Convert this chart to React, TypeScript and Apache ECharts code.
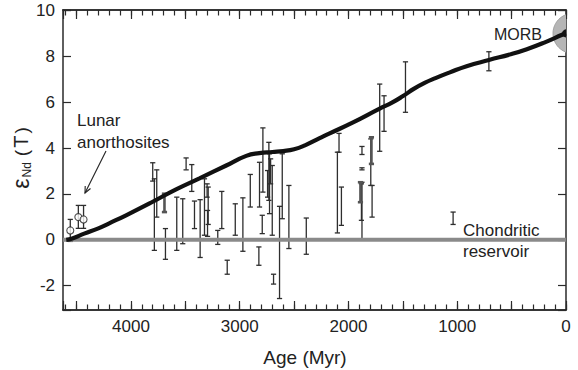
import React, { useEffect, useRef } from 'react';
import * as echarts from 'echarts';

// Model evolution curve of depleted mantle (age in Myr, epsilon Nd)
const curveAge = [4595, 4540, 4430, 4300, 4200, 4045, 3800, 3585, 3370, 3124, 2940, 2820, 2700, 2600, 2500, 2400, 2265, 2173, 1958, 1713, 1600, 1498, 1400, 1300, 1200, 1068, 914, 709, 500, 360, 200, 30, 0];
const curveEps = [0.0, 0.06, 0.27, 0.5, 0.72, 1.07, 1.66, 2.2, 2.68, 3.24, 3.66, 3.78, 3.83, 3.87, 3.95, 4.12, 4.43, 4.64, 5.12, 5.72, 5.98, 6.27, 6.58, 6.84, 7.05, 7.3, 7.57, 7.84, 8.1, 8.31, 8.6, 8.95, 9.0];

// Error bars (age, low, high)
const barAge = [3800, 3785, 3763, 3683, 3579, 3524, 3493, 3441, 3416, 3364, 3324, 3300, 3290, 3296, 3202, 3165, 3115, 3041, 2971, 2903, 2824, 2818, 2787, 2793, 2732, 2726, 2716, 2744, 2701, 2689, 2634, 2609, 2548, 2388, 2087, 2102, 2065, 1876, 1876, 1881, 1876, 1795, 1783, 1713, 1673, 1476, 709, 1038];
const barLow = [2.56, -0.46, 0.99, -0.85, -0.46, -0.17, 3.05, 2.11, 0.49, -0.77, 0.2, 1.86, 0.67, 0.15, -0.2, 0.49, -1.5, 0.2, -0.5, 1.43, -1.11, 1.43, 2.08, 0.27, 1.72, 1.14, 2.44, 1.86, 0.2, -1.93, -2.56, 0.92, -0.38, -0.63, 3.82, 0.3, 0.63, 3.72, 3.05, 0.85, 0.05, 2.37, 0.99, 3.86, 4.73, 5.56, 7.37, 0.67];
const barHigh = [3.36, 2.66, 3.05, 0.49, 1.86, 1.79, 3.57, 3.28, 1.69, 1.75, 2.66, 2.44, 2.3, 1.28, 0.41, 2.11, -0.89, 1.57, 1.83, 2.85, -0.31, 3.38, 4.88, 1.07, 4.25, 3.75, 3.53, 3.02, 3.24, -1.5, 1.46, 3.75, 2.37, 0.95, 4.64, 3.82, 2.3, 4.07, 3.14, 2.44, 2.51, 4.4, 2.37, 6.79, 6.28, 7.76, 8.2, 1.21];

// Thicker grey bars
const thickAge = [3692, 1890, 1789];
const thickLow = [1.21, 1.64, 3.31];
const thickHigh = [2.01, 2.51, 4.47];

// Lunar anorthosites (open circles)
const lunarAge = [4558, 4484, 4436];
const lunarEps = [0.41, 0.99, 0.89];
const lunarLow = [-0.07, 0.5, 0.5];
const lunarHigh = [0.89, 1.5, 1.5];

// Chondritic reservoir and MORB
const chondriticAge = [4625, 0];
const chondriticEps = [0, 0];
const morbAge = [0];
const morbEps = [9];

const xTickLabels = ['4000', '3000', '2000', '1000', '0'];
const yTickLabels = ['-2', '0', '2', '4', '6', '8', '10'];

const FONT = '"Liberation Sans", Arial, Helvetica, sans-serif';
const AX = '#2a2a2a';

const barRender = (stroke: string, lw: number, cap: number) => (_p: any, api: any) => {
  const x = api.value(0);
  const lo = api.coord([x, api.value(1)]);
  const hi = api.coord([x, api.value(2)]);
  const style = { stroke, lineWidth: lw, fill: 'none' };
  return {
    type: 'group',
    children: [
      { type: 'line', shape: { x1: lo[0], y1: lo[1], x2: hi[0], y2: hi[1] }, style },
      { type: 'line', shape: { x1: lo[0] - cap, y1: lo[1], x2: lo[0] + cap, y2: lo[1] }, style },
      { type: 'line', shape: { x1: hi[0] - cap, y1: hi[1], x2: hi[0] + cap, y2: hi[1] }, style },
    ],
  };
};

function xAxisDef(position: string, interval: number, tickLen: number, labels: boolean) {
  return {
    type: 'value',
    inverse: true,
    min: 0,
    max: 4625,
    interval,
    position,
    axisLine: { show: true, onZero: false, lineStyle: { color: AX, width: 1.5 } },
    axisTick: { show: true, inside: true, length: tickLen, lineStyle: { color: AX, width: 1.2 } },
    axisLabel: {
      show: labels,
      margin: 8,
      fontSize: 17,
      color: '#222',
      fontFamily: FONT,
      formatter: (v: number) => (xTickLabels.includes(String(v)) ? String(v) : ''),
    },
    splitLine: { show: false },
  };
}

function yAxisDef(position: string, labels: boolean) {
  return {
    type: 'value',
    min: -3.06,
    max: 10.02,
    minInterval: 2,
    maxInterval: 2,
    splitNumber: 6,
    position,
    axisLine: { show: true, onZero: false, lineStyle: { color: AX, width: 1.5 } },
    axisTick: { show: true, inside: true, length: 8, lineStyle: { color: AX, width: 1.2 } },
    axisLabel: {
      show: labels,
      margin: 8,
      fontSize: 17,
      color: '#222',
      fontFamily: FONT,
      formatter: (v: number) => (yTickLabels.includes(String(v)) ? String(v) : ''),
    },
    splitLine: { show: false },
  };
}

export default function App() {
  const ref = useRef<HTMLDivElement>(null);
  useEffect(() => {
    if (!ref.current) return;
    const chart = echarts.init(ref.current, undefined, { renderer: 'svg' });
    const textStyle = { fontFamily: FONT, fontSize: 17, fill: '#222' };
    chart.setOption({
      animation: false,
      backgroundColor: '#fff',
      grid: { left: 63, right: 12, top: 10, bottom: 60, containLabel: false },
      xAxis: [
        xAxisDef('bottom', 500, 9, true),
        xAxisDef('bottom', 100, 5.5, false),
        xAxisDef('top', 500, 9, false),
        xAxisDef('top', 100, 5.5, false),
      ],
      yAxis: [yAxisDef('left', true), yAxisDef('right', false)],
      series: [
        {
          type: 'custom',
          name: 'MORB',
          clip: true,
          z: 1,
          renderItem: (_p: any, api: any) => {
            const c = api.coord([api.value(0), api.value(1)]);
            return {
              type: 'circle',
              shape: { cx: c[0] + 7, cy: c[1], r: 20 },
              style: { fill: '#b5b5b5', stroke: '#a0a0a0', lineWidth: 1 },
            };
          },
          data: morbAge.map((a, i) => [a, morbEps[i]]),
        },
        {
          type: 'custom',
          name: 'bars',
          z: 2,
          renderItem: barRender('#2e2e2e', 1.3, 2.6),
          encode: { x: 0, y: [1, 2] },
          data: barAge.map((a, i) => [a, barLow[i], barHigh[i]]),
        },
        {
          type: 'custom',
          name: 'thickBars',
          z: 2,
          renderItem: barRender('#555', 2.6, 2.6),
          encode: { x: 0, y: [1, 2] },
          data: thickAge.map((a, i) => [a, thickLow[i], thickHigh[i]]),
        },
        {
          type: 'custom',
          name: 'lunarBars',
          z: 2,
          renderItem: barRender('#2e2e2e', 1.3, 2.6),
          encode: { x: 0, y: [1, 2] },
          data: lunarAge.map((a, i) => [a, lunarLow[i], lunarHigh[i]]),
        },
        {
          type: 'line',
          name: 'Chondritic reservoir',
          z: 3,
          symbol: 'none',
          lineStyle: { color: '#8a8a8a', width: 4 },
          data: chondriticAge.map((a, i) => [a, chondriticEps[i]]),
        },
        {
          type: 'line',
          name: 'Depleted mantle',
          z: 4,
          symbol: 'none',
          smooth: 0.5,
          lineStyle: { color: '#111', width: 4.2 },
          data: curveAge.map((a, i) => [a, curveEps[i]]),
        },
        {
          type: 'custom',
          name: 'MORBdot',
          clip: true,
          z: 5,
          renderItem: (_p: any, api: any) => {
            const c = api.coord([api.value(0), api.value(1)]);
            return { type: 'circle', shape: { cx: c[0], cy: c[1], r: 4 }, style: { fill: '#111' } };
          },
          data: morbAge.map((a, i) => [a, morbEps[i]]),
        },
        {
          type: 'scatter',
          name: 'Lunar anorthosites',
          z: 6,
          symbol: 'circle',
          symbolSize: 7,
          itemStyle: { color: '#fff', borderColor: '#222', borderWidth: 1.1 },
          data: lunarAge.map((a, i) => [a, lunarEps[i]]),
        },
      ],
      graphic: [
        {
          type: 'text',
          x: 21,
          y: 157,
          rotation: Math.PI / 2,
          style: {
            text: '{e|ε}{s|Nd}{p|(}{t|T}{p|)}',
            align: 'center',
            verticalAlign: 'middle',
            fill: '#222',
            fontFamily: FONT,
            rich: {
              e: { fontSize: 23, fontFamily: FONT, fill: '#222' },
              s: { fontSize: 12, fontFamily: FONT, fill: '#222', padding: [12, 4, 0, 1] },
              p: { fontSize: 19, fontFamily: FONT, fill: '#222', padding: [0, 2, 0, 2] },
              t: { fontSize: 20, fontFamily: FONT, fill: '#222' },
            },
          },
        },
        {
          type: 'text',
          x: 305,
          y: 357,
          style: { text: 'Age (Myr)', fontFamily: FONT, fontSize: 19, fill: '#222', align: 'center', verticalAlign: 'middle' },
        },
        { type: 'text', x: 77, y: 120, style: { ...textStyle, text: 'Lunar', align: 'left', verticalAlign: 'middle' } },
        { type: 'text', x: 77, y: 142, style: { ...textStyle, text: 'anorthosites', align: 'left', verticalAlign: 'middle' } },
        { type: 'line', shape: { x1: 106, y1: 151, x2: 85, y2: 193 }, style: { stroke: '#222', lineWidth: 1.1 } },
        { type: 'polyline', shape: { points: [[90.5, 188.5], [85, 193], [85.2, 186]] }, style: { stroke: '#222', lineWidth: 1.1, fill: 'none' } },
        { type: 'text', x: 463, y: 230, style: { ...textStyle, text: 'Chondritic', align: 'left', verticalAlign: 'middle' } },
        { type: 'text', x: 463, y: 251, style: { ...textStyle, text: 'reservoir', align: 'left', verticalAlign: 'middle' } },
        { type: 'text', x: 542, y: 34, style: { ...textStyle, fontSize: 16, text: 'MORB', align: 'right', verticalAlign: 'middle' } },
      ],
    });
    return () => chart.dispose();
  }, []);
  return <div ref={ref} style={{ position: 'fixed', left: 0, top: 0, width: 578, height: 370, background: '#fff' }} />;
}
